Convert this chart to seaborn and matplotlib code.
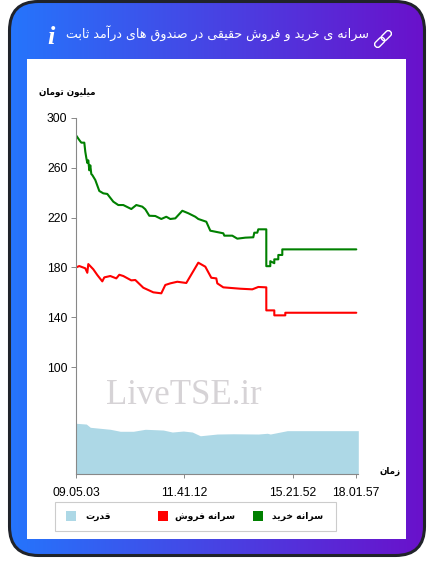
import numpy as np
import matplotlib
matplotlib.use("Agg")
import matplotlib.pyplot as plt
from matplotlib.colors import LinearSegmentedColormap
from matplotlib.patches import FancyBboxPatch, Rectangle
from matplotlib.transforms import Affine2D
import seaborn as sns

# data, x is the sample index of the day
buy_idx = [0, 3, 5, 8, 9, 10, 11, 12, 13, 14, 15, 16, 19, 23, 27, 31, 37, 42, 47, 55, 60, 66, 69, 73, 79, 85, 90,
           94, 99, 106, 112, 119, 122, 130, 134, 147, 148, 156, 161, 169, 177, 178, 181, 182, 186, 190, 190, 193,
           194, 194, 198, 198, 202, 202, 206, 206, 209, 209, 280]
buy_val = [285.8, 282.3, 280.2, 280.2, 272.9, 268, 263.9, 266, 258, 262, 255, 254.2, 250.2, 241.4, 239.5, 239,
           232.8, 230.1, 230.1, 226.9, 230.1, 228.8, 226.7, 221.5, 221.3, 218.9, 220.7, 218.9, 219.4, 225.5, 223.5,
           220.7, 218.9, 216.7, 209.5, 207.4, 205.5, 205.5, 203.1, 203.9, 204.2, 207.9, 207.9, 210.6, 210.6, 210.6,
           181, 181, 181, 185, 183.4, 186.5, 186.5, 190, 190, 194.5, 194.5, 194.5, 194.5]
sell_idx = [0, 3, 9, 11, 12, 17, 21, 26, 28, 34, 40, 43, 47, 55, 59, 67, 77, 85, 89, 94, 101, 110, 122, 129, 135,
            140, 141, 147, 164, 176, 182, 190, 190, 198, 198, 209, 209, 280]
sell_val = [180.1, 181.1, 179.3, 175.7, 182.7, 178.5, 173.9, 168.8, 172, 173.1, 171.2, 174.1, 173.1, 169.6, 169.9,
            163.7, 160, 159.2, 165.9, 167.2, 168.5, 167.5, 183.8, 180.6, 171.7, 171.2, 167.2, 164, 162.9, 162.4,
            164.3, 164, 145.5, 145.5, 141.5, 141.5, 143.6, 143.6]
power_idx = [0, 10, 14, 24, 34, 44, 57, 69, 87, 96, 107, 116, 124, 141, 157, 182, 191, 194, 211, 282]
power_val = [54.8, 54.2, 51.6, 50.8, 50, 48.4, 48.4, 50, 49.4, 47.8, 48.6, 47.8, 44.8, 46.2, 46.4, 46.2, 46.8, 46.2,
             48.9, 48.9]
y_ticks = [100, 140, 180, 220, 260, 300]
x_tick_pos = [0, 108, 216.4, 279.4]
x_tick_labels = ["09.05.03", "11.41.12", "15.21.52", "18.01.57"]

title = "سرانه ی خرید و فروش حقیقی در صندوق های درآمد ثابت"
y_title = "میلیون تومان"
x_title = "زمان"
legend_names = ["سرانه خرید", "سرانه فروش", "قدرت"]
legend_colors = ["green", "red", "lightblue"]

# matplotlib does no arabic shaping, so map letters to presentation forms
FORMS = {"ا": (0xFE8D, 0xFE8E), "آ": (0xFE81, 0xFE82), "د": (0xFEA9, 0xFEAA), "ر": (0xFEAD, 0xFEAE),
         "ز": (0xFEAF, 0xFEB0), "و": (0xFEED, 0xFEEE)}
for ch, start in {"ب": 0xFE8F, "ت": 0xFE95, "ث": 0xFE99, "ح": 0xFEA1, "خ": 0xFEA5, "س": 0xFEB1, "ش": 0xFEB5,
                  "ص": 0xFEB9, "ف": 0xFED1, "ق": 0xFED5, "ل": 0xFEDD, "م": 0xFEE1, "ن": 0xFEE5, "ه": 0xFEE9,
                  "ی": 0xFBFC}.items():
    FORMS[ch] = (start, start + 1, start + 2, start + 3)


def shape(text):
    out = []
    for i, ch in enumerate(text):
        if ch not in FORMS:
            out.append(ch)
            continue
        f = FORMS[ch]
        prev = text[i - 1] if i > 0 else " "
        nxt = text[i + 1] if i + 1 < len(text) else " "
        from_prev = prev in FORMS and len(FORMS[prev]) == 4
        to_next = nxt in FORMS and len(f) == 4
        if from_prev and to_next:
            out.append(chr(f[3]))
        elif from_prev:
            out.append(chr(f[1]))
        elif to_next:
            out.append(chr(f[2]))
        else:
            out.append(chr(f[0]))
    return "".join(reversed(out))


sns.set_style("white")
plt.rcParams["font.family"] = ["Liberation Sans", "DejaVu Sans"]

W, H = 433, 574
fig = plt.figure(figsize=(W / 100, H / 100), dpi=100, facecolor="white")

# card background in pixel coordinates
bg = fig.add_axes([0, 0, 1, 1], zorder=0)
bg.set_xlim(0, W)
bg.set_ylim(H, 0)
bg.axis("off")
grad = LinearSegmentedColormap.from_list("card", ["#2575fc", "#6a11cb"])
card = FancyBboxPatch((9.5, 1.5), 415, 554, boxstyle="round,pad=0,rounding_size=29", fc="none", ec="#20232a",
                      lw=2.2, zorder=3)
bg.add_patch(card)
img = bg.imshow(np.linspace(0, 1, 256).reshape(1, -1), extent=(9, 425, 556, 0), cmap=grad, aspect="auto", zorder=1)
img.set_clip_path(card)
bg.set_xlim(0, W)
bg.set_ylim(H, 0)
bg.add_patch(Rectangle((27, 59), 379, 480, fc="white", ec="none", zorder=4))

# header
bg.text(217.5, 33.5, shape(title), color="white", fontsize=9.1, ha="center", va="center", zorder=5,
        family="DejaVu Sans")
bg.text(51.5, 37.5, "i", color="white", fontsize=19, family="Liberation Serif", weight="bold", style="italic",
        ha="center", va="center", zorder=5)
rot = Affine2D().rotate_deg_around(383, 39, -45) + bg.transData
for x0 in (372.5, 382):
    bg.add_patch(FancyBboxPatch((x0, 36), 11.5, 6, boxstyle="round,pad=0,rounding_size=2.8", fc="none", ec="white",
                                lw=1.0, transform=rot, zorder=5))

# watermark and axis captions
bg.text(183.5, 395.5, "LiveTSE.ir", color="#d6d3d6", fontsize=25, family="Liberation Serif", ha="center",
        va="center", zorder=5)
bg.text(67, 92, shape(y_title), fontsize=6.3, weight="bold", family="DejaVu Sans", color="black", ha="center",
        va="center", zorder=5)
bg.text(390, 471, shape(x_title), fontsize=6.3, weight="bold", family="DejaVu Sans", color="black", ha="center",
        va="center", zorder=5)

# legend
bg.add_patch(Rectangle((54.5, 501.5), 281.5, 29, fc="white", ec="#cccccc", lw=0.8, zorder=5))
for x0, x1, name, col in zip((253, 158, 66), (297.5, 205, 98), legend_names, legend_colors):
    bg.add_patch(Rectangle((x0, 511), 10, 10, fc=col, ec="none", zorder=6))
    bg.text(x1, 516.5, shape(name), fontsize=6.6, weight="bold", family="DejaVu Sans", color="black", ha="center",
            va="center", zorder=6)

# chart
left, right, top, bottom = 76.3, 357.7, 118, 473.5
ax = fig.add_axes([left / W, 1 - bottom / H, (right - left) / W, (bottom - top) / H], zorder=2)
ax.patch.set_alpha(0)
ax.fill_between(power_idx, power_val, 14.5, color="lightblue", lw=0)
sns.lineplot(x=buy_idx, y=buy_val, color="green", linewidth=1.5, estimator=None, sort=False, ax=ax)
sns.lineplot(x=sell_idx, y=sell_val, color="red", linewidth=1.5, estimator=None, sort=False, ax=ax)
ax.set_xlim(0, right - left)
ax.set_ylim(14.5, 300)
ax.set_yticks(y_ticks)
ax.set_xticks(x_tick_pos)
ax.set_xticklabels(x_tick_labels)
sns.despine(ax=ax)
for side in ("left", "bottom"):
    ax.spines[side].set_color("#888888")
    ax.spines[side].set_linewidth(0.8)
ax.tick_params(axis="x", length=3.2, width=0.7, color="#888888", pad=6.5, labelsize=8.7, labelcolor="black",
               bottom=True)
ax.tick_params(axis="y", length=3.6, width=0.7, color="#888888", pad=2.8, labelsize=8.7, labelcolor="black",
               left=True)

fig.savefig("out.png", dpi=100)
